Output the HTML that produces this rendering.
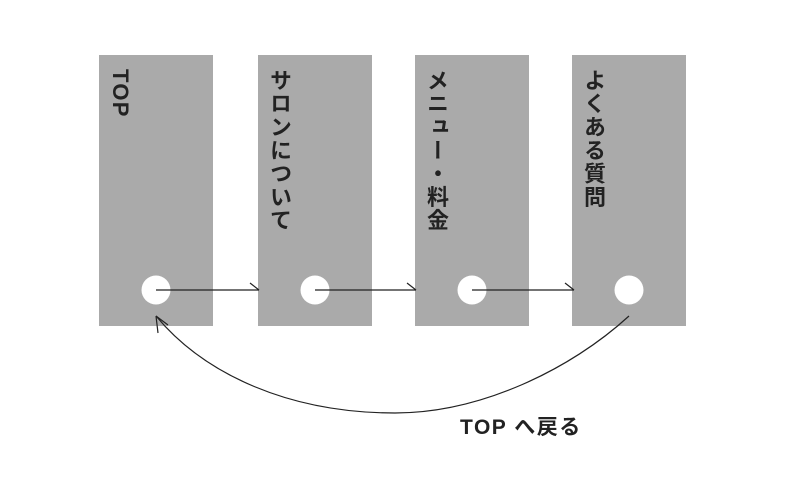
<!DOCTYPE html>
<html><head><meta charset="utf-8"><style>
body{margin:0;width:805px;height:486px;background:#fff;position:relative;overflow:hidden;font-family:"Liberation Sans","Noto Sans CJK JP",sans-serif;}
.b{position:absolute;top:55px;width:114px;height:271px;background:#aaa;}
.t{position:absolute;top:14px;left:10px;writing-mode:vertical-rl;font-size:22px;font-weight:bold;color:#222;letter-spacing:1.3px;line-height:23px;}
svg{position:absolute;left:0;top:0}
.lbl{position:absolute;left:460px;top:411px;font-size:21px;font-weight:bold;color:#222;letter-spacing:1.5px;}
</style></head><body>
<div class="b" style="left:99px"><div class="t">TOP</div></div>
<div class="b" style="left:258px"><div class="t">サロンについて</div></div>
<div class="b" style="left:415px"><div class="t">メニュー・料金</div></div>
<div class="b" style="left:572px"><div class="t">よくある質問</div></div>
<svg width="805" height="486">
<g fill="#fff"><circle cx="156" cy="290" r="14.5"/><circle cx="315" cy="290" r="14.5"/><circle cx="472" cy="290" r="14.5"/><circle cx="629" cy="290" r="14.5"/></g>
<g stroke="#222" stroke-width="1.2" fill="none">
<path d="M156 290H259M250 283L259 290"/>
<path d="M315 290H416M407 283L416 290"/>
<path d="M472 290H574M565 283L574 290"/>
<path d="M629 316C570 370 480 413 395 413C290 413 205 375 156 316"/>
<path d="M156 316L158 333M156 316L168 325"/>
</g>
</svg>
<div class="lbl">TOP へ戻る</div>
</body></html>
